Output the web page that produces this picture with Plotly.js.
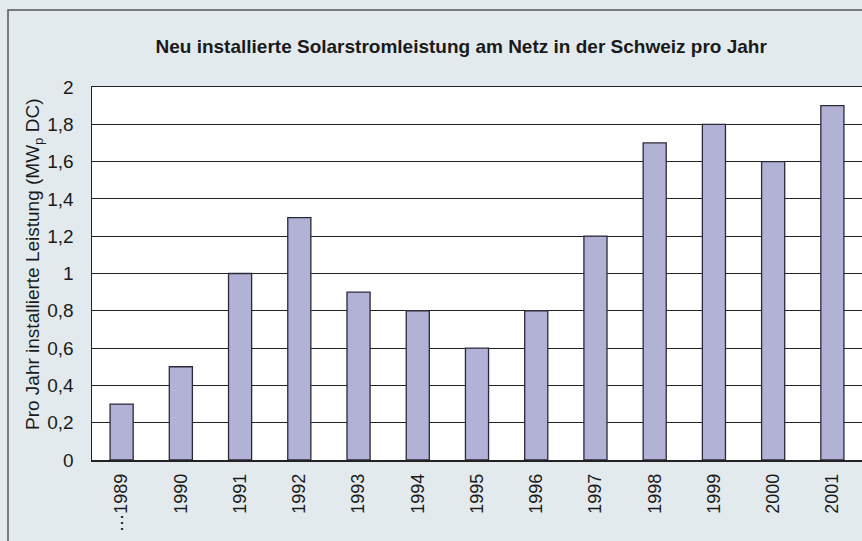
<!DOCTYPE html>
<html><head><meta charset="utf-8">
<script src="https://cdn.plot.ly/plotly-3.0.1.min.js"></script>
<style>html,body{margin:0;padding:0;overflow:hidden;background:#e3eaee}</style>
</head><body>
<div id="chart" style="width:862px;height:541px"></div>
<script>
const years = ["⋯1989","1990","1991","1992","1993","1994","1995","1996","1997","1998","1999","2000","2001"];
const leistung = [0.3,0.5,1.0,1.3,0.9,0.8,0.6,0.8,1.2,1.7,1.8,1.6,1.9];
const yTicks = [0,0.2,0.4,0.6,0.8,1,1.2,1.4,1.6,1.8,2];
const yTickText = ["0","0,2","0,4","0,6","0,8","1","1,2","1,4","1,6","1,8","2"];
const yTitle = 'Pro Jahr installierte Leistung (MW<sub>p</sub> DC)';

const L = 92, T = 87, B = 81, R = 0, W = 862, H = 541;
const pw = W - L - R, ph = H - T - B;
const px = v => (v - L) / pw;
const py = v => (H - B - v) / ph;

const font = "Liberation Sans, Arial, sans-serif";
Plotly.newPlot('chart', [{
  type: 'bar',
  x: years,
  y: leistung,
  marker: {color: '#b2b2d6', line: {color: '#2a2a3a', width: 1.3}},
  hoverinfo: 'none'
}], {
  width: W, height: H,
  margin: {l: L, r: R, t: T, b: B, pad: 0},
  paper_bgcolor: '#e3eaee',
  plot_bgcolor: '#ffffff',
  bargap: 0.61,
  showlegend: false,
  title: {
    text: '<b>Neu installierte Solarstromleistung am Netz in der Schweiz pro Jahr</b>',
    font: {family: font, size: 19, color: '#1a1a1a'},
    x: 0.535, xanchor: 'center', y: 1 - 46 / H, yanchor: 'middle'
  },
  xaxis: {
    type: 'category',
    tickangle: -90,
    tickfont: {family: font, size: 18, color: '#1a1a1a'},
    ticks: 'outside', ticklen: 5, tickcolor: 'rgba(0,0,0,0)',
    showgrid: false,
    showline: true, mirror: true, linecolor: '#222', linewidth: 1.5,
    zeroline: false
  },
  yaxis: {
    range: [0, 2],
    tickvals: yTicks, ticktext: yTickText,
    tickfont: {family: font, size: 19, color: '#1a1a1a'},
    ticks: 'outside', ticklen: 13, tickcolor: 'rgba(0,0,0,0)',
    showgrid: true, gridcolor: '#222', gridwidth: 1,
    showline: true, linecolor: '#222', linewidth: 1.5,
    zeroline: false
  },
  annotations: [{
    text: yTitle, textangle: -90,
    xref: 'paper', yref: 'paper',
    x: px(34), y: py(264), xanchor: 'center', yanchor: 'middle',
    showarrow: false,
    font: {family: font, size: 19, color: '#1a1a1a'}
  }],
  shapes: [{
    type: 'rect', xref: 'paper', yref: 'paper',
    x0: px(8), x1: px(900), y0: py(600), y1: py(10),
    line: {color: '#555', width: 1.5}, fillcolor: 'rgba(0,0,0,0)', layer: 'above'
  }]
}, {staticPlot: true});
</script>
</body></html>
